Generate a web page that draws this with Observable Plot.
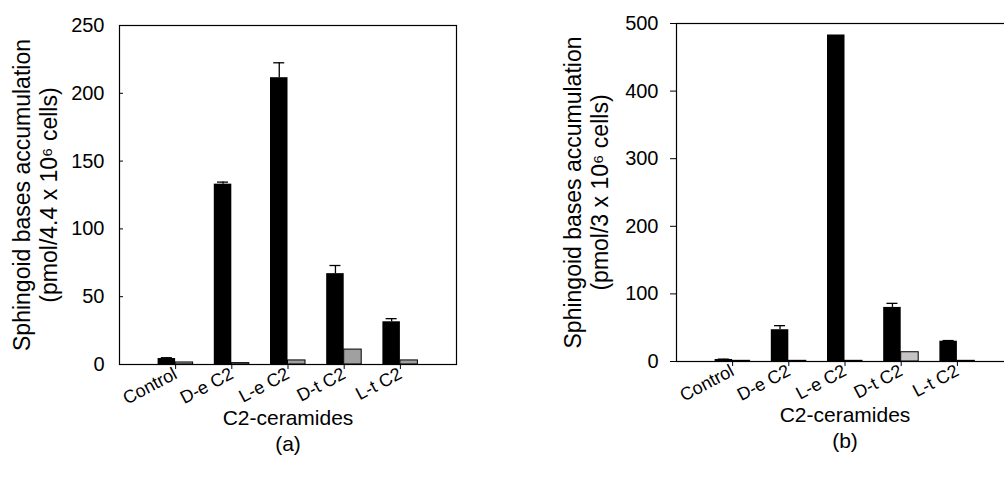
<!DOCTYPE html>
<html><head><meta charset="utf-8">
<script src="https://cdn.jsdelivr.net/npm/d3@7"></script>
<script src="https://cdn.jsdelivr.net/npm/@observablehq/plot@0.6"></script>
<style>
html,body{margin:0;padding:0;background:#fff;overflow:hidden;width:1004px;height:489px}
#wrap{position:relative;width:1004px;height:489px;overflow:hidden}
#a{position:absolute;left:0;top:0;width:502px}
#b{position:absolute;left:502px;top:0;width:521px}
svg{font-family:"Liberation Sans",Arial,sans-serif;max-width:none!important}
</style></head><body><div id="wrap"><div id="a"></div><div id="b"></div></div>
<script>
const categories = ["Control", "D-e C2", "L-e C2", "D-t C2", "L-t C2"];
// panel (a)
const aBlack = [4.4, 133, 211.5, 67, 31.5];
const aBlackErr = [0.6, 1.5, 11, 6, 2.3];
const aGray = [1.5, 1, 3, 11, 3];
const aTicks = [0, 50, 100, 150, 200, 250];
// panel (b)
const bBlack = [3, 47, 483, 80, 30];
const bBlackErr = [0.5, 6, 0, 6, 1];
const bGray = [1, 1, 1, 13.7, 1];
const bTicks = [0, 100, 200, 300, 400, 500];

const xTitle = "C2-ceramides";
const aYTitle = "Sphingoid bases accumulation\n(pmol/4.4 x 10\u2076 cells)";
const bYTitle = "Sphingoid bases accumulation\n(pmol/3 x 10\u2076 cells)";

function panel(o) {
  const rows = categories.map((c, i) => ({cat: c, v: o.black[i], e: o.err[i], g: o.gray[i]}));
  const bw = 35;
  const frameW = o.width - o.marginLeft - o.marginRight;
  const errRows = rows.filter(d => d.e > 0);
  const marks = [
    Plot.barY(rows, {x: "cat", y: "v", fill: "black", insetRight: bw / 2}),
    Plot.barY(rows, {x: "cat", y: "g", fill: o.grayFill, stroke: "black", strokeWidth: 1, insetLeft: bw / 2}),
    Plot.ruleX(errRows, {x: "cat", y1: "v", y2: d => d.v + d.e, dx: -bw / 4, stroke: "black", strokeWidth: 1.3}),
    Plot.tickY(errRows, {x: "cat", y: d => d.v + d.e, insetLeft: bw / 4 - 5.5, insetRight: bw * 3 / 4 - 5.5, stroke: "black", strokeWidth: 1.3}),
    Plot.frame({stroke: "black", strokeWidth: 1.2}),
    Plot.axisY(o.ticks, {tickSize: o.inward ? 0 : 6, tickPadding: o.inward ? 15 : 12, fontSize: 20, label: null}),
    Plot.axisX({tickSize: 5, tickRotate: -28, tickPadding: 3, fontSize: 18, label: null}),
    Plot.text([xTitle], {frameAnchor: "bottom", dy: 60, fontSize: 21}),
    Plot.text([o.tag], {frameAnchor: "bottom", dy: 86, fontSize: 21}),
    Plot.text([o.yTitle], {frameAnchor: "left", textAnchor: "middle", dx: o.titleDx, rotate: -90, lineHeight: 1.2, fontSize: 23})
  ];
  if (o.inward) marks.push(Plot.tickY(o.ticks, {y: d => d, insetRight: frameW - 4, stroke: "black"}));
  return Plot.plot({
    width: o.width, height: 489,
    marginLeft: o.marginLeft, marginRight: o.marginRight, marginTop: o.marginTop, marginBottom: o.marginBottom,
    style: {fontFamily: "'Liberation Sans', Arial, sans-serif", background: "white", color: "black", overflow: "visible"},
    x: {type: "band", domain: categories, paddingInner: 0.377, paddingOuter: 0.687, align: 0.5, round: false},
    y: {domain: [0, o.ticks[o.ticks.length - 1]]},
    marks
  });
}

document.getElementById("a").append(panel({
  black: aBlack, err: aBlackErr, gray: aGray, ticks: aTicks, tag: "(a)", yTitle: aYTitle, grayFill: "#a0a0a0",
  width: 502, marginLeft: 119, marginRight: 46, marginTop: 25, marginBottom: 125, inward: true, titleDx: -85
}));
document.getElementById("b").append(panel({
  black: bBlack, err: bBlackErr, gray: bGray, ticks: bTicks, tag: "(b)", yTitle: bYTitle, grayFill: "#c4c4c4",
  width: 521, marginLeft: 174, marginRight: 10, marginTop: 23, marginBottom: 128, inward: false, titleDx: -91
}));
</script></body></html>
